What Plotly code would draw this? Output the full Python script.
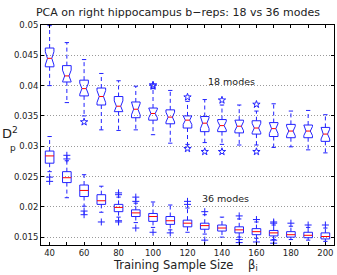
import plotly.graph_objects as go

# ---------------- data ----------------
sizes = [40, 50, 60, 70, 80, 90, 100, 110, 120, 130, 140, 150, 160, 170, 180, 190, 200]
x_label_ticks = [40, 60, 80, 100, 120, 140, 160, 180, 200]

# 18 modes (upper group)
m18_lo  = [0.0400, 0.0372, 0.0350, 0.0327, 0.0326, 0.0327, 0.0319, 0.0305, 0.0303, 0.0306, 0.0303, 0.0302, 0.0302, 0.0298, 0.0299, 0.0294, 0.0289]
m18_q1  = [0.0431, 0.0406, 0.0383, 0.0368, 0.0357, 0.0347, 0.0343, 0.0337, 0.0330, 0.0324, 0.0324, 0.0322, 0.0320, 0.0316, 0.0314, 0.0314, 0.0308]
m18_med = [0.0445, 0.0416, 0.0395, 0.0382, 0.0366, 0.0361, 0.0354, 0.0348, 0.0343, 0.0338, 0.0334, 0.0333, 0.0330, 0.0329, 0.0325, 0.0325, 0.0320]
m18_q3  = [0.0462, 0.0433, 0.0409, 0.0396, 0.0382, 0.0373, 0.0363, 0.0360, 0.0350, 0.0349, 0.0344, 0.0343, 0.0342, 0.0339, 0.0336, 0.0335, 0.0331]
m18_hi  = [0.0499, 0.0471, 0.0443, 0.0420, 0.0408, 0.0399, 0.0395, 0.0392, 0.0374, 0.0377, 0.0368, 0.0368, 0.0358, 0.0370, 0.0358, 0.0359, 0.0352]
m18_out_x = [60, 100, 100, 120, 120, 130, 140, 140, 160, 160]
m18_out_y = [0.0340, 0.0401, 0.0399, 0.0381, 0.0296, 0.0291, 0.0376, 0.0291, 0.0369, 0.0291]

# 36 modes (lower group)
m36_lo  = [0.0258, 0.0215, 0.0201, 0.0191, 0.0183, 0.0174, 0.0166, 0.0162, 0.0158, 0.0155, 0.0150, 0.0150, 0.0148, 0.0146, 0.0146, 0.0145, 0.0143]
m36_q1  = [0.0272, 0.0240, 0.0217, 0.0204, 0.0192, 0.0184, 0.0176, 0.0171, 0.0167, 0.0163, 0.0160, 0.0157, 0.0154, 0.0152, 0.0150, 0.0149, 0.0147]
m36_med = [0.0284, 0.0248, 0.0227, 0.0210, 0.0199, 0.0190, 0.0184, 0.0177, 0.0173, 0.0169, 0.0165, 0.0162, 0.0159, 0.0157, 0.0154, 0.0153, 0.0151]
m36_q3  = [0.0292, 0.0258, 0.0236, 0.0220, 0.0204, 0.0195, 0.0189, 0.0184, 0.0178, 0.0173, 0.0170, 0.0167, 0.0164, 0.0161, 0.0159, 0.0158, 0.0157]
m36_hi  = [0.0316, 0.0276, 0.0253, 0.0234, 0.0216, 0.0206, 0.0208, 0.0203, 0.0198, 0.0187, 0.0183, 0.0180, 0.0175, 0.0170, 0.0168, 0.0166, 0.0165]
m36_out_x = [40, 40, 50, 50, 60, 60, 70, 80, 80, 80, 80, 90, 90, 90, 100, 110, 120, 120, 130, 130, 150, 150, 150, 160, 160, 170, 170, 170, 170, 180, 190, 200]
m36_out_y = [0.0249, 0.0242, 0.0285, 0.0279, 0.0193, 0.0187, 0.0175, 0.0223, 0.0220, 0.0177, 0.0175, 0.0216, 0.0209, 0.0165, 0.0158, 0.0157, 0.0209, 0.0204, 0.0192, 0.0145, 0.0185, 0.0146, 0.0141, 0.0179, 0.0142, 0.0175, 0.0173, 0.0145, 0.0140, 0.0173, 0.0170, 0.0170]

y_ticks = [0.015, 0.02, 0.025, 0.03, 0.035, 0.04, 0.045, 0.05]
y_tick_text = ["0.015", "0.02", "0.025", "0.03", "0.035", "0.04", "0.045", "0.05"]

title_text = "PCA on right hippocampus b\u2212reps: 18 vs 36 modes"
label_18 = "18 modes"
label_36 = "36 modes"

# ---------------- style ----------------
BLUE = "#2222ff"
RED = "#ff0000"
HW = 2.5      # half box width (x units)
CAP = 1.25    # half cap width
NOTCH_FACTOR = 1.57 / 20 ** 0.5


def box_geometry(xs, lo, q1, med, q3, hi, notched):
    bx, by, mx, my, wx, wy, cx, cy = [], [], [], [], [], [], [], []
    for x, a, b, m, c, d in zip(xs, lo, q1, med, q3, hi):
        if notched:
            n = NOTCH_FACTOR * (c - b)
            nl, nh = max(b, m - n), min(c, m + n)
            pts = [(x - HW, b), (x - HW, nl), (x - HW / 2, m), (x - HW, nh), (x - HW, c),
                   (x + HW, c), (x + HW, nh), (x + HW / 2, m), (x + HW, nl), (x + HW, b), (x - HW, b)]
            mw = HW / 2
        else:
            pts = [(x - HW, b), (x - HW, c), (x + HW, c), (x + HW, b), (x - HW, b)]
            mw = HW
        for px, py in pts:
            bx.append(px); by.append(py)
        bx.append(None); by.append(None)
        mx += [x - mw, x + mw, None]; my += [m, m, None]
        wx += [x, x, None, x, x, None]; wy += [c, d, None, b, a, None]
        cx += [x - CAP, x + CAP, None, x - CAP, x + CAP, None]; cy += [d, d, None, a, a, None]
    return bx, by, mx, my, wx, wy, cx, cy


fig = go.Figure()


def add_group(lo, q1, med, q3, hi, ox, oy, notched, symbol, msize):
    bx, by, mx, my, wx, wy, cx, cy = box_geometry(sizes, lo, q1, med, q3, hi, notched)
    fig.add_trace(go.Scatter(x=wx, y=wy, mode="lines", line=dict(color=BLUE, width=1, dash="4px,3px"), hoverinfo="skip"))
    fig.add_trace(go.Scatter(x=cx, y=cy, mode="lines", line=dict(color=BLUE, width=1), hoverinfo="skip"))
    fig.add_trace(go.Scatter(x=bx, y=by, mode="lines", line=dict(color=BLUE, width=1), hoverinfo="skip"))
    fig.add_trace(go.Scatter(x=mx, y=my, mode="lines", line=dict(color=RED, width=1), hoverinfo="skip"))
    fig.add_trace(go.Scatter(x=ox, y=oy, mode="markers",
                             marker=dict(symbol=symbol, size=msize, color=BLUE, line=dict(color=BLUE, width=1)),
                             hoverinfo="skip"))


add_group(m18_lo, m18_q1, m18_med, m18_q3, m18_hi, m18_out_x, m18_out_y, True, "star-open", 5.5)
add_group(m36_lo, m36_q1, m36_med, m36_q3, m36_hi, m36_out_x, m36_out_y, False, "cross-thin-open", 5)

W, H = 337, 275
L, R, T, B = 41, 3, 25, 30
pw, ph = W - L - R, H - T - B


def px2paper(px, py):
    return (px - L) / pw, (H - B - py) / ph


annos = []
fx, fy = px2paper(119, 265)
annos.append(dict(x=(185 - L) / pw, y=fy, xref="paper", yref="paper", showarrow=False,
                  text="Training Sample Size    \u03b2<sub>i</sub>", font=dict(size=11.5),
                  xanchor="center", yanchor="middle"))
annos.append(dict(x=px2paper(10, 133)[0], y=px2paper(10, 133)[1], xref="paper", yref="paper", showarrow=False,
                  text="D<sup>2</sup>", font=dict(size=13), xanchor="center", yanchor="middle"))
annos.append(dict(x=px2paper(13, 148)[0], y=px2paper(13, 148)[1], xref="paper", yref="paper", showarrow=False,
                  text="p", font=dict(size=9), xanchor="center", yanchor="middle"))
annos.append(dict(x=131, y=0.0406, xref="x", yref="y", showarrow=False, text=label_18,
                  font=dict(size=9.5), xanchor="left", yanchor="middle"))
annos.append(dict(x=127.5, y=0.0213, xref="x", yref="y", showarrow=False, text=label_36,
                  font=dict(size=9.5), xanchor="left", yanchor="middle"))

fig.update_layout(
    width=W, height=H,
    margin=dict(l=L, r=R, t=T, b=B, pad=0),
    paper_bgcolor="white", plot_bgcolor="white",
    showlegend=False,
    font=dict(family="DejaVu Sans", color="#222"),
    title=dict(text=title_text, x=178 / W, xanchor="center", y=1 - 12 / H, yanchor="middle",
               font=dict(size=11, color="#222")),
    annotations=annos,
    xaxis=dict(range=[35, 205], tickmode="array", tickvals=x_label_ticks,
               ticks="inside", ticklen=3, tickcolor="black", showline=True, linecolor="black",
               linewidth=1, mirror="ticks", showgrid=False, zeroline=False,
               minor=dict(tickmode="array", tickvals=sizes, ticks="inside", ticklen=3,
                          tickcolor="black", showgrid=False),
               tickfont=dict(size=8.5, color="#222")),
    yaxis=dict(range=[0.0137, 0.05], tickmode="array", tickvals=y_ticks, ticktext=y_tick_text,
               ticks="inside", ticklen=3, tickcolor="black", showline=True, linecolor="black",
               linewidth=1, mirror="ticks", showgrid=True, gridcolor="#9a9a9a", griddash="1px,2px",
               gridwidth=1, zeroline=False, tickfont=dict(size=8.5, color="#222")),
)

fig.write_html("out.html")
